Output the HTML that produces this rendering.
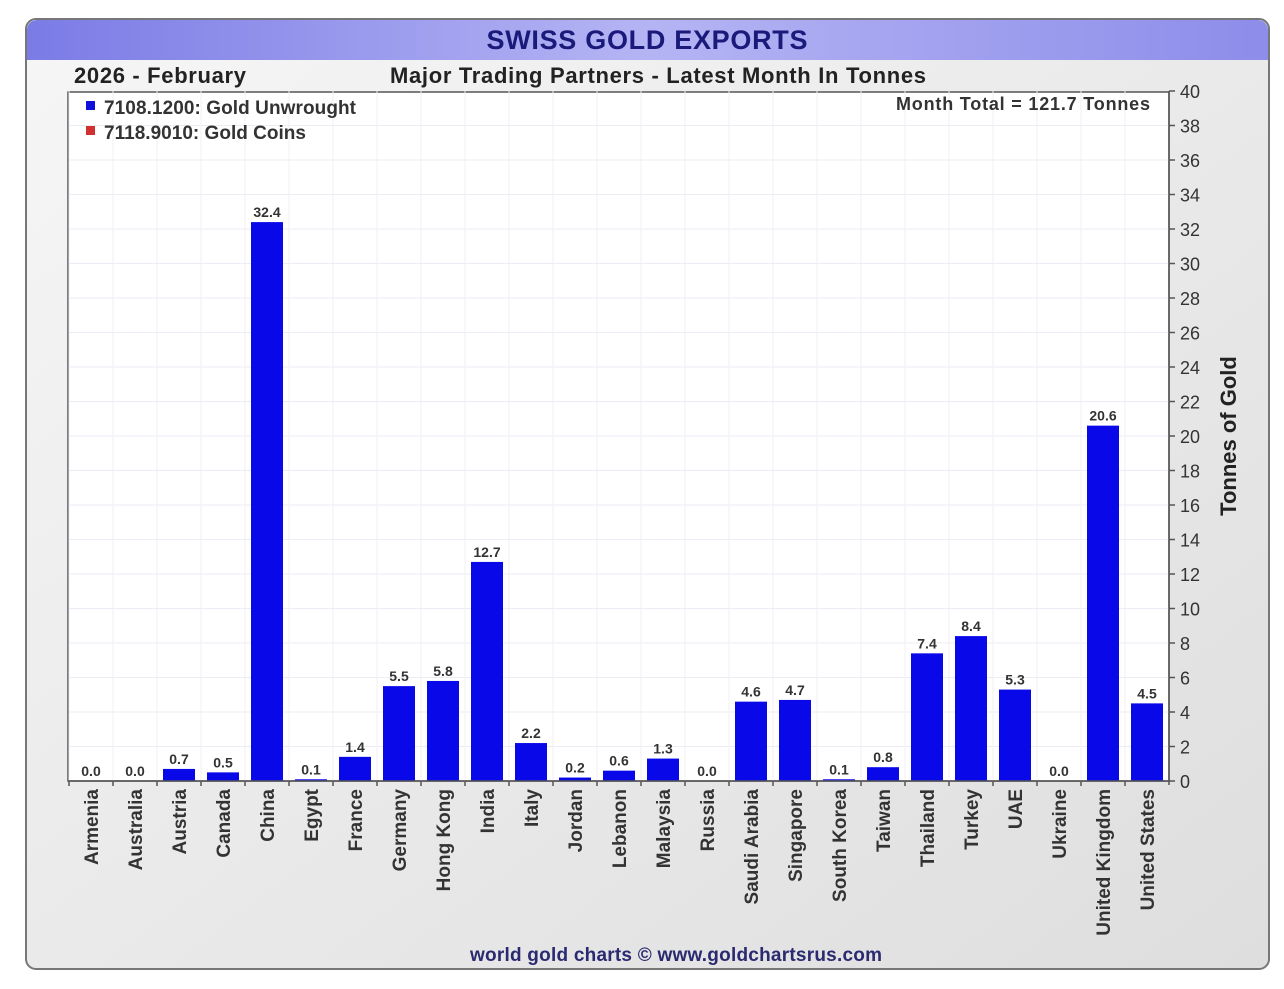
<!DOCTYPE html>
<html><head><meta charset="utf-8"><style>
body{margin:0;background:#fff;width:1284px;height:984px;overflow:hidden;font-family:"Liberation Sans",sans-serif}
</style></head><body>
<svg width="1284" height="984" xmlns="http://www.w3.org/2000/svg" font-family="Liberation Sans, sans-serif">
<defs>
<linearGradient id="tb" x1="0" x2="1" y1="0" y2="0"><stop offset="0" stop-color="#7b7be6"/><stop offset="0.5" stop-color="#b4b4f4"/><stop offset="1" stop-color="#8d8dea"/></linearGradient>
<linearGradient id="bg" x1="0" x2="1" y1="0" y2="1"><stop offset="0" stop-color="#f6f6f6"/><stop offset="1" stop-color="#dedede"/></linearGradient>
</defs>
<rect x="26" y="19" width="1243" height="950" rx="10" fill="url(#bg)" stroke="#777" stroke-width="2"/>
<path d="M27 60 V30 a10 10 0 0 1 10 -10 H1258 a10 10 0 0 1 10 10 V60 Z" fill="url(#tb)"/>
<text x="647" y="49" text-anchor="middle" font-size="27" font-weight="bold" fill="#1a1a7a" textLength="321">SWISS GOLD EXPORTS</text>
<text x="74" y="83" font-size="22" font-weight="bold" fill="#222" textLength="172">2026 - February</text>
<text x="658" y="83" text-anchor="middle" font-size="22" font-weight="bold" fill="#222" textLength="536">Major Trading Partners - Latest Month In Tonnes</text>
<rect x="68" y="92" width="1101" height="689" fill="#fff" stroke="#555" stroke-width="1.5"/>
<g id="grid"></g>
<g id="bars"></g>
<g id="yaxis"></g>
<g id="xaxis"></g>
<rect x="86" y="101" width="9" height="9" fill="#1010dd"/>
<text x="104" y="114" font-size="19" font-weight="bold" fill="#333" textLength="252">7108.1200: Gold Unwrought</text>
<rect x="86" y="126" width="9" height="9" fill="#d03030"/>
<text x="104" y="139" font-size="19" font-weight="bold" fill="#333" textLength="202">7118.9010: Gold Coins</text>
<text x="1150" y="110" text-anchor="end" font-size="18" font-weight="bold" fill="#333" textLength="254">Month Total = 121.7 Tonnes</text>
<text transform="translate(1236,436) rotate(-90)" text-anchor="middle" font-size="22" font-weight="bold" fill="#222">Tonnes of Gold</text>
<text x="676" y="961" text-anchor="middle" font-size="19" font-weight="bold" fill="#2a2a70" textLength="412">world gold charts © www.goldchartsrus.com</text>
</svg>
<script>
const categories=["Armenia","Australia","Austria","Canada","China","Egypt","France","Germany","Hong Kong","India","Italy","Jordan","Lebanon","Malaysia","Russia","Saudi Arabia","Singapore","South Korea","Taiwan","Thailand","Turkey","UAE","Ukraine","United Kingdom","United States"];
const values=[0.0,0.0,0.7,0.5,32.4,0.1,1.4,5.5,5.8,12.7,2.2,0.2,0.6,1.3,0.0,4.6,4.7,0.1,0.8,7.4,8.4,5.3,0.0,20.6,4.5];
const yTicks=[0,2,4,6,8,10,12,14,16,18,20,22,24,26,28,30,32,34,36,38,40];
const NS="http://www.w3.org/2000/svg";
const X0=69,SLOT=44,Y0=781,YTOP=91,YMAX=40;
const y=v=>Y0-(v/YMAX)*(Y0-YTOP);
const xc=i=>X0+SLOT*i+SLOT/2;
function mk(t,a,p){const e=document.createElementNS(NS,t);for(const k in a)e.setAttribute(k,a[k]);p.appendChild(e);return e;}
const grid=document.getElementById('grid'),bars=document.getElementById('bars'),ya=document.getElementById('yaxis'),xa=document.getElementById('xaxis');
yTicks.forEach(t=>{
 if(t>0&&t<YMAX){const g=mk('line',{x1:69,x2:1169,y1:y(t),y2:y(t),stroke:'#ececf4','stroke-width':1},grid);
 
 }
 const tk=mk('line',{x1:1169,x2:1175,y1:y(t),y2:y(t),stroke:'#555','stroke-width':1.5},ya);
 
 
 const tl=mk('text',{x:1180,y:y(t)+7,'font-size':18,fill:'#333'},ya);tl.textContent=t;
 
 
});
mk('line',{x1:1169,x2:1169,y1:YTOP,y2:Y0+4,stroke:'#555','stroke-width':1.5},ya);
mk('line',{x1:68,x2:1169,y1:Y0,y2:Y0,stroke:'#555','stroke-width':1.5},xa);
categories.forEach((c,i)=>{
 const gl=mk('line',{x1:X0+SLOT*i,x2:X0+SLOT*i,y1:YTOP,y2:Y0,stroke:'#f0f0f6','stroke-width':1},grid);
 
 
 const v=values[i];
 const b=mk('rect',{x:xc(i)-16,y:y(v),width:32,height:Y0-y(v),fill:'#0808e8'},bars);
 
 
 const vl=mk('text',{x:xc(i),y:y(v)-5,'text-anchor':'middle','font-size':14,'font-weight':'bold',fill:'#333'},bars);vl.textContent=v.toFixed(1);
 
 
 mk('line',{x1:X0+SLOT*i,x2:X0+SLOT*i,y1:Y0,y2:Y0+5,stroke:'#555','stroke-width':1.5},xa);
 const cl=mk('text',{transform:`translate(${xc(i)+7},${Y0+8}) rotate(-90)`,'text-anchor':'end','font-size':19,'font-weight':'bold',fill:'#333'},xa);cl.textContent=c;
 
 
});
</script>
</body></html>
